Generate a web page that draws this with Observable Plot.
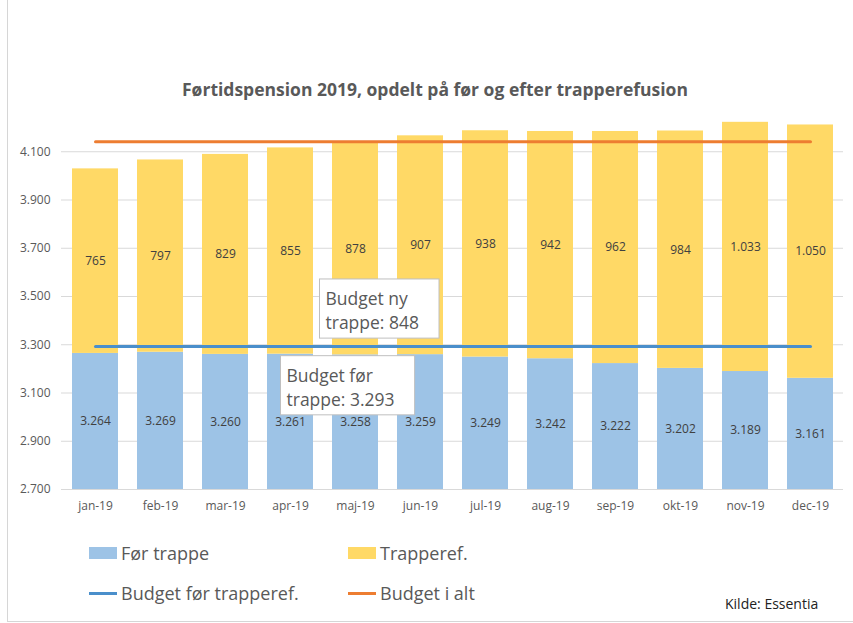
<!DOCTYPE html>
<html><head><meta charset="utf-8">
<script src="https://cdn.jsdelivr.net/npm/d3@7"></script>
<script src="https://cdn.jsdelivr.net/npm/@observablehq/plot@0.6"></script>
<style>
body{margin:0;background:#fff;font-family:"Open Sans",sans-serif;}
#wrap{position:relative;width:853px;height:623px;overflow:hidden;background:#fff;}
#frame{position:absolute;left:7px;top:0;width:846px;height:621px;border-left:1px solid #d6d6d6;border-bottom:1px solid #d6d6d6;}
#title{position:absolute;top:77px;left:0;width:870px;text-align:center;font-weight:bold;font-size:17.5px;color:#595959;}
#chart{position:absolute;top:100px;left:0;}
.leg{position:absolute;display:flex;align-items:center;font-size:18px;color:#595959;height:22px;}
.sw{width:28px;margin-right:4px;}
#src{position:absolute;left:725px;top:594px;font-size:14px;color:#222;}
</style></head>
<body>
<div id="wrap">
<div id="frame"></div>
<div id="title">Førtidspension 2019, opdelt på før og efter trapperefusion</div>
<div id="chart"></div>
<div class="leg" style="left:89px;top:542px"><div class="sw" style="height:12px;background:#9dc3e6"></div>Før trappe</div>
<div class="leg" style="left:348px;top:542px"><div class="sw" style="height:12px;background:#ffd966"></div>Trapperef.</div>
<div class="leg" style="left:89px;top:582px"><div class="sw" style="height:3px;background:#4a8fcb"></div>Budget før trapperef.</div>
<div class="leg" style="left:348px;top:582px"><div class="sw" style="height:3px;background:#ed7d31"></div>Budget i alt</div>
<div id="src">Kilde: Essentia</div>
</div>
<script>
const months = ["jan-19","feb-19","mar-19","apr-19","maj-19","jun-19","jul-19","aug-19","sep-19","okt-19","nov-19","dec-19"];
const forTrappe = [3264,3269,3260,3261,3258,3259,3249,3242,3222,3202,3189,3161];
const trapperef = [765,797,829,855,878,907,938,942,962,984,1033,1050];
const budgetFor = 3293;
const budgetNy = 848;
const budgetTotal = budgetFor + budgetNy;
const yTicks = [2700,2900,3100,3300,3500,3700,3900,4100];
const yDomain = [2700,4300];
const seriesNames = ["Før trappe","Trapperef."];
const annotations = [
  {month:"apr-19", value:3536, text:"Budget ny\ntrappe: 848", dx:35},
  {month:"apr-19", value:3218, text:"Budget før\ntrappe: 3.293", dx:-4}
];

const fmt = d3.formatLocale({decimal:",",thousands:".",grouping:[3],currency:["",""]}).format(",d");
const rows = months.flatMap((m,i)=>[
  {month:m, series:seriesNames[0], value:forTrappe[i]},
  {month:m, series:seriesNames[1], value:trapperef[i]}
]);

const annotationMarks = annotations.map(a =>
  Plot.text([a], {x:"month", y:"value", text:"text", dx:a.dx, textAnchor:"start", lineAnchor:"top",
    fill:"#595959", fontSize:17.5, lineHeight:1.38})
);

const plot = Plot.plot({
  width:853, height:420,
  marginTop:3, marginBottom:31, marginLeft:61, marginRight:10,
  style:{fontFamily:"Open Sans", fontSize:"12px", color:"#595959", background:"transparent"},
  x:{domain:months, paddingInner:0.3, paddingOuter:0.14, align:0.5, tickSize:0, tickPadding:12, label:null},
  y:{domain:yDomain, ticks:yTicks, tickFormat:fmt, tickSize:0, tickPadding:11, label:null},
  color:{domain:seriesNames, range:["#9dc3e6","#ffd966"]},
  marks:[
    Plot.gridY(yTicks, {stroke:"#d9d9d9", strokeOpacity:1}),
    Plot.barY(rows, {x:"month", y:"value", fill:"series", clip:true}),
    Plot.text(months, {x:d=>d, y:(d,i)=>(yDomain[0]+forTrappe[i])/2, text:(d,i)=>fmt(forTrappe[i]), fill:"#404040", fontSize:12}),
    Plot.text(months, {x:d=>d, y:(d,i)=>forTrappe[i]+trapperef[i]/2, text:(d,i)=>fmt(trapperef[i]), fill:"#404040", fontSize:12}),
    Plot.lineY(months, {x:d=>d, y:()=>budgetFor, stroke:"#4a8fcb", strokeWidth:3}),
    Plot.lineY(months, {x:d=>d, y:()=>budgetTotal, stroke:"#ed7d31", strokeWidth:3}),
    ...annotationMarks
  ]
});
document.getElementById("chart").appendChild(plot);

// white boxes behind annotation texts
Array.from(plot.querySelectorAll("text")).filter(t => t.textContent.startsWith("Budget")).forEach(t => {
  let b;
  try { b = t.getBBox(); } catch(e) { return; }
  const r = document.createElementNS("http://www.w3.org/2000/svg","rect");
  r.setAttribute("x", b.x-6); r.setAttribute("y", b.y-7);
  r.setAttribute("width", b.width+26); r.setAttribute("height", b.height+11);
  r.setAttribute("fill","#fff"); r.setAttribute("stroke","#bfbfbf"); r.setAttribute("stroke-width",1);
  const tr = t.getAttribute("transform"); if (tr) r.setAttribute("transform", tr);
  t.parentNode.insertBefore(r, t);
});
</script>
</body></html>
